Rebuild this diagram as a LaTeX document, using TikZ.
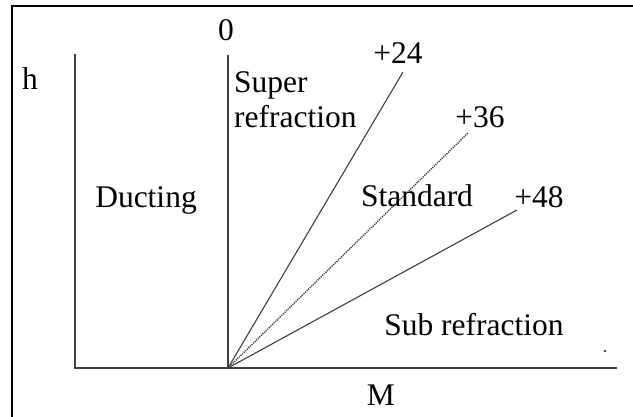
\documentclass[tikz,border=0pt]{standalone}
\usepackage{fontspec}
\setmainfont{Liberation Serif}
\usepackage{tikz}
\usetikzlibrary{positioning}
\usepackage{xcolor}
\definecolor{axisgray}{RGB}{64,64,64}
\tikzset{
  framestroke/.style={draw=black,line width=2.6pt},
  axisline/.style={draw=axisgray,line width=1.3pt},
  rayline/.style={draw=axisgray,line width=1.1pt},
  rayfine/.style={draw=axisgray,line width=1.4pt,dash pattern=on 1.2pt off 1pt},
  regiontext/.style={font=\fontsize{31.5}{36}\selectfont,inner sep=0pt,anchor=base},
  leftregion/.style={regiontext,anchor=base west,align=left}
}

\begin{document}
\begin{tikzpicture}[x=1pt,y=1pt]
  \useasboundingbox (0,0) rectangle (633,416);
  \fill[white] (0,0) rectangle (633,416);
  % frame (only left and top edges fall inside the picture)
  \coordinate (fbl) at (12,-5);
  \coordinate (ftl) at (12,410);
  \coordinate (ftr) at (640,410);
  \draw[framestroke] (fbl) -- (ftl) -- (ftr);
  % axes
  \coordinate (o) at (228,48);
  \coordinate (leftbot) at (75,48);
  \coordinate (lefttop) at (75,362);
  \coordinate (midtop) at (228,361);
  \coordinate (mend) at (617,48);
  \draw[axisline] (lefttop) -- (leftbot) -- (mend);
  \draw[axisline] (o) -- (midtop);
  % refractivity gradients
  \coordinate (r24) at (403,344);
  \coordinate (r36) at (468,283);
  \coordinate (r48) at (517,206);
  \draw[rayline] (o) -- (r24);
  \draw[rayfine] (o) -- (r36);
  \draw[rayline] (o) -- (r48);
  % labels
  \node[regiontext] (zero) at (226,375) {0};
  \node[regiontext] (hlab) at (30,326) {h};
  \node[regiontext] (mlab) at (381,11) {M};
  \node[regiontext] (l24) at (398,352) {+24};
  \node[regiontext] (l36) at (480,288) {+36};
  \node[regiontext] (l48) at (539,208) {+48};
  \node[leftregion] (super) at (234,323) {Super};
  \node[leftregion] (superb) at (234,288) {refraction};
  \node[regiontext] (duct) at (146,208) {Ducting};
  \node[regiontext] (std) at (417,210) {Standard};
  \node[regiontext] (sub) at (474,81) {Sub refraction};
  \node[circle,fill=axisgray,inner sep=0pt,minimum size=2.6pt] (dot) at (605,65) {};
\end{tikzpicture}
\end{document}
